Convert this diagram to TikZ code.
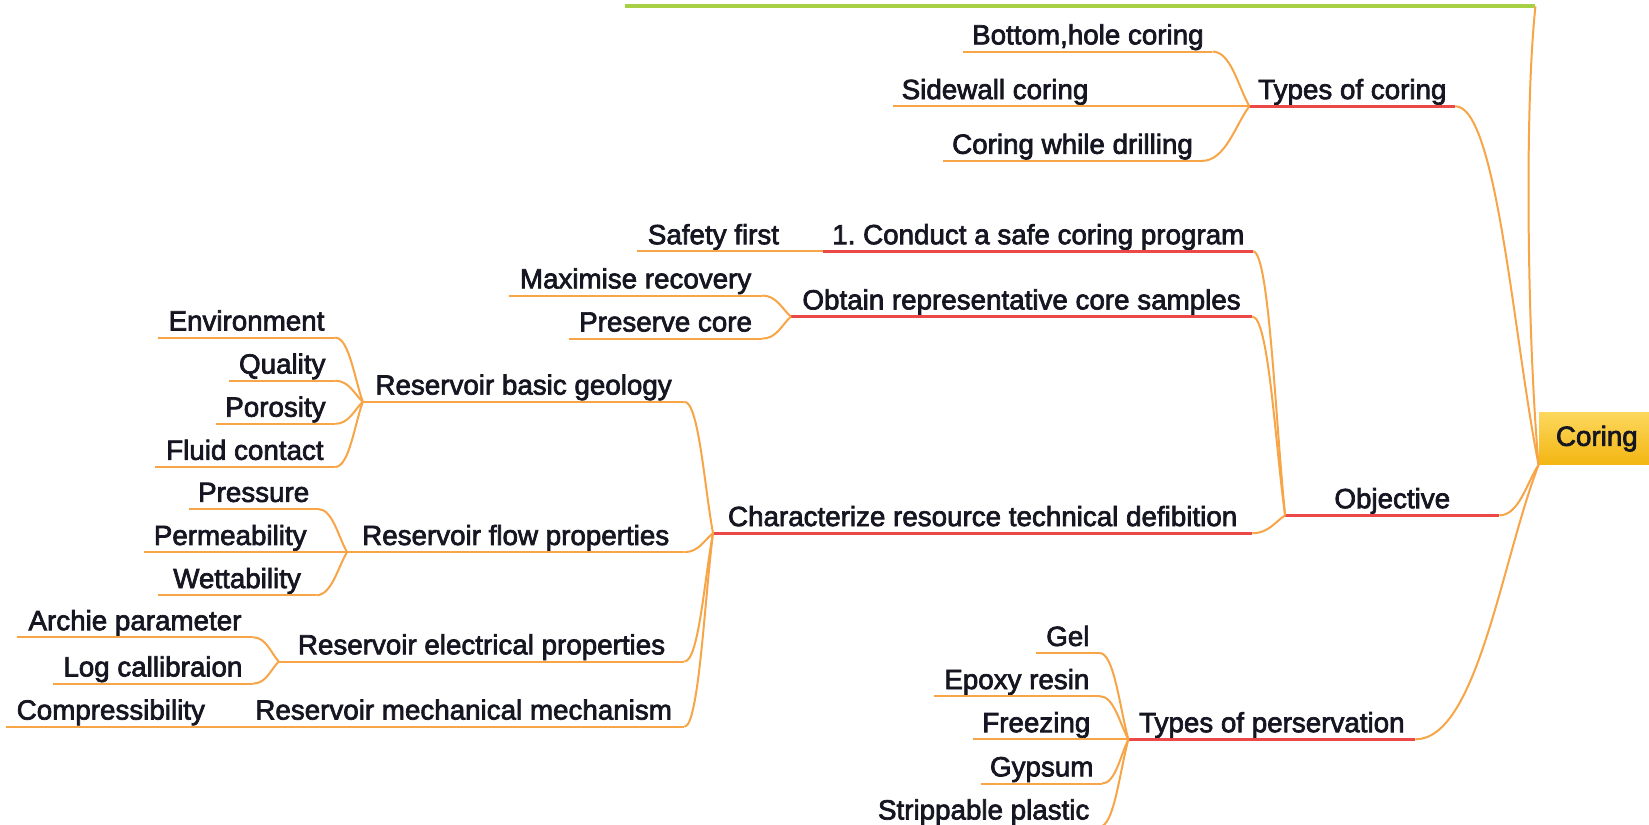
\documentclass[tikz,border=0pt]{standalone}
\usepackage{fontspec}
\setmainfont{Liberation Sans}
\newfontfamily\mmfont{Liberation Sans}[FakeBold=2.5]
\usetikzlibrary{calc}

\definecolor{mmorange}{RGB}{247,165,70}
\definecolor{mmred}{RGB}{236,72,72}
\definecolor{mmgreen}{RGB}{168,208,68}
\definecolor{mmtext}{RGB}{22,22,34}
\definecolor{mmtop}{RGB}{252,215,92}
\definecolor{mmbot}{RGB}{243,182,18}

% curved branch from a child's underline end to its parent's junction point
\newcommand\mmlink[2]{%
  \draw[link] let \p1=(#1), \p2=(#2) in
    (\p1) .. controls ({\x1+0.5*(\x2-\x1)},\y1)
             and ({\x2-0.3*(\x2-\x1)},{\y2+0.35*(\y1-\y2)}) .. (\p2);}

\begin{document}
\begin{tikzpicture}[x=0.5pt,y=-0.5pt,
  lbl/.style={font=\mmfont\fontsize{13.2}{15}\selectfont\frenchspacing, text=mmtext,
    inner xsep=4pt, inner ysep=0.3pt, text height=10pt, text depth=2.9pt,
    anchor=south west},
  link/.style={draw=mmorange, line width=0.95pt},
  uo/.style={draw=mmorange, line width=0.95pt},
  ur/.style={draw=mmred, line width=1.3pt},
  ug/.style={draw=mmgreen, line width=1.8pt}]

\clip (0,0) rectangle (1568,784);
\fill[white] (0,0) rectangle (1568,784);

% central topic
\node[font=\mmfont\fontsize{13.2}{15}\selectfont, text=mmtext, inner sep=0,
  minimum width=55pt, minimum height=24.5pt, anchor=south west,
  top color=mmtop, bottom color=mmbot] (root) at (1463,442) {Coring};

% first level
\node[lbl, minimum width=92pt]    (toc) at (1188,101) {Types of coring};
\node[lbl, minimum width=101.5pt] (obj) at (1222,490) {Objective};
\node[lbl, minimum width=136pt]   (tps) at (1073,703) {Types of perservation};
\coordinate (grL) at (594,6);
\coordinate (grR) at (1460,6);

% types of coring
\node[lbl, minimum width=107pt]  (bhc) at (916,49)  {Bottom,hole coring};
\node[lbl, minimum width=89.5pt] (swc) at (849,101) {Sidewall coring};
\node[lbl, minimum width=116.5pt](cwd) at (897,153) {Coring while drilling};

% objective
\node[lbl, minimum width=203.5pt] (csp) at (783,239) {1. Conduct a safe coring program};
\node[lbl, minimum width=219pt]   (ors) at (752,301) {Obtain representative core samples};
\node[lbl, minimum width=256pt]   (crt) at (678,507) {Characterize resource technical defibition};

\node[lbl, minimum width=72pt]  (sf) at (606,239) {Safety first};
\node[lbl, minimum width=120pt] (mr) at (484,281) {Maximise recovery};
\node[lbl, minimum width=91.5pt](pc) at (541,322) {Preserve core};

% resource characterisation
\node[lbl, minimum width=152.5pt] (rbg) at (345,382) {Reservoir basic geology};
\node[lbl, minimum width=160pt]   (rfp) at (330,525) {Reservoir flow properties};
\node[lbl, minimum width=192.5pt] (rep) at (265,629) {Reservoir electrical properties};
\node[lbl, minimum width=209.5pt] (rmm) at (231,691) {Reservoir mechanical mechanism};

\node[lbl, minimum width=84pt]   (env) at (150,321) {Environment};
\node[lbl, minimum width=50pt]   (qua) at (218,362) {Quality};
\node[lbl, minimum width=56.5pt] (por) at (205,403) {Porosity};
\node[lbl, minimum width=85.5pt] (flc) at (147,444) {Fluid contact};

\node[lbl, minimum width=60pt]   (pre) at (180,484) {Pressure};
\node[lbl, minimum width=81.5pt] (prm) at (137,525) {Permeability};
\node[lbl, minimum width=75pt]   (wet) at (150,566) {Wettability};

\node[lbl, minimum width=112pt] (arc) at (16,606) {Archie parameter};
\node[lbl, minimum width=95pt]  (lgc) at (50,650) {Log callibraion};
\node[lbl, minimum width=99pt]  (cmp) at (6,691)  {Compressibility};

% preservation
\node[lbl, minimum width=30pt]   (gel) at (985,621) {Gel};
\node[lbl, minimum width=78.5pt] (epr) at (888,662) {Epoxy resin};
\node[lbl, minimum width=60pt]   (frz) at (925,703) {Freezing};
\node[lbl, minimum width=56pt]   (gyp) at (933,745) {Gypsum};
\node[lbl, minimum width=110pt]  (spl) at (825,786) {Strippable plastic};

% underlines
\draw[ug] (grL) -- (grR);
\foreach \k in {toc,obj,tps,csp,ors,crt}{
  \draw[ur] (\k.south west) -- (\k.south east);}
\foreach \k in {bhc,swc,cwd,sf,mr,pc,rbg,rfp,rep,rmm,env,qua,por,flc,
                pre,prm,wet,arc,lgc,cmp,gel,epr,frz,gyp,spl}{
  \draw[uo] (\k.south west) -- (\k.south east);}

% branches to the central topic
\draw[link] (grR) .. controls (1449,110) and (1453,330) .. (root.south west);
\mmlink{toc.south east}{root.south west}
\mmlink{obj.south east}{root.south west}
\mmlink{tps.south east}{root.south west}

\foreach \k in {bhc,swc,cwd}{\mmlink{\k.south east}{toc.south west}}
\foreach \k in {csp,ors,crt}{\mmlink{\k.south east}{obj.south west}}
\mmlink{sf.south east}{csp.south west}
\foreach \k in {mr,pc}{\mmlink{\k.south east}{ors.south west}}
\foreach \k in {rbg,rfp,rep,rmm}{\mmlink{\k.south east}{crt.south west}}
\foreach \k in {env,qua,por,flc}{\mmlink{\k.south east}{rbg.south west}}
\foreach \k in {pre,prm,wet}{\mmlink{\k.south east}{rfp.south west}}
\foreach \k in {arc,lgc}{\mmlink{\k.south east}{rep.south west}}
\mmlink{cmp.south east}{rmm.south west}
\foreach \k in {gel,epr,frz,gyp,spl}{\mmlink{\k.south east}{tps.south west}}
\end{tikzpicture}
\end{document}
